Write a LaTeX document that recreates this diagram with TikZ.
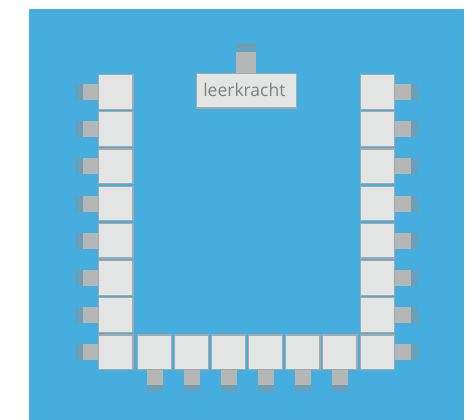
\documentclass[tikz,border=0pt]{standalone}
\usepackage{fontspec}
\setmainfont{Open Sans}
\definecolor{bg}{HTML}{45AEDF}
\definecolor{desk}{HTML}{E3E5E5}
\definecolor{deskline}{HTML}{A3A8AC}
\definecolor{seat}{HTML}{B5B7B7}
\definecolor{backrest}{HTML}{8A9398}
\tikzset{x=1pt,y=-1pt,
  deskbox/.style={fill=desk,draw=deskline,line width=1.3pt},
  seatbox/.style={fill=seat},
  rest/.style={fill=backrest}}
\newcommand{\leftstudent}[1]{%
  \fill[seatbox] (83,#1+10) rectangle (98,#1+26);
  \fill[rest] (79.6,#1+10) rectangle (82.4,#1+26);
  \fill[rest] (75.6,#1+10) rectangle (78.4,#1+26);
  \draw[deskbox] (98.6,#1+.6) rectangle (132.9,#1+35.2);}
\newcommand{\rightstudent}[1]{%
  \fill[seatbox] (395,#1+10) rectangle (411,#1+26);
  \fill[rest] (410.6,#1+10) rectangle (413.4,#1+26);
  \fill[rest] (414.6,#1+10) rectangle (417.4,#1+26);
  \draw[deskbox] (360.3,#1+.6) rectangle (394.6,#1+35.2);}
\newcommand{\bottomstudent}[1]{%
  \fill[seatbox] (#1+10,369.5) rectangle (#1+26,385);
  \fill[rest] (#1+10,384.6) rectangle (#1+26,387.4);
  \fill[rest] (#1+10,388.6) rectangle (#1+26,391.4);
  \draw[deskbox] (#1+.6,334.9) rectangle (#1+34.9,369.2);}
\begin{document}
\begin{tikzpicture}
\useasboundingbox (0,0) rectangle (469,420);
\fill[white] (0,0) rectangle (469,420);
\fill[bg] (29,9) rectangle (464,420);
% teacher
\fill[seatbox] (236,52) rectangle (256,73);
\fill[rest] (236,49.6) rectangle (256,52.4);
\fill[rest] (236.5,44) rectangle (255.5,46.8);
\node[deskbox,anchor=north west,minimum width=99.5pt,minimum height=34.8pt,inner sep=0pt] (teacher) at (196,72.6) {};
\node[text=black!50,font=\fontsize{17.5}{18}\selectfont,inner sep=0pt] (teacherlabel) at ([xshift=-2pt,yshift=1pt]teacher.center) {leerkracht};
% students
\foreach \i in {0,...,7}{
  \pgfmathsetmacro{\yy}{74+37.2*\i}
  \leftstudent{\yy}
  \rightstudent{\yy}
}
\foreach \i in {0,...,5}{
  \pgfmathsetmacro{\xx}{136.6+37.1*\i}
  \bottomstudent{\xx}
}
\end{tikzpicture}
\end{document}
